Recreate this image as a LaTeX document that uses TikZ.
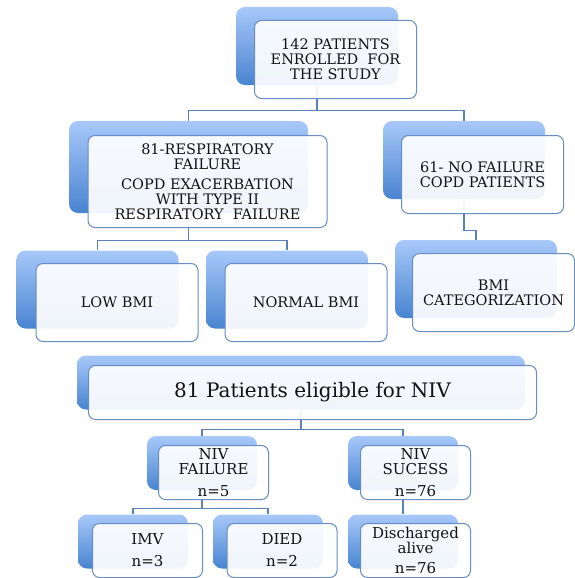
\documentclass[tikz,border=0pt]{standalone}
\usepackage{fontspec}
\setmainfont{DejaVu Serif}
\definecolor{backtop}{RGB}{168,200,250}
\definecolor{backbot}{RGB}{72,132,208}
\definecolor{frameblue}{RGB}{104,140,196}
\definecolor{linkblue}{RGB}{92,128,184}
\definecolor{inkgray}{RGB}{20,18,18}

\begin{document}
\begin{tikzpicture}[x=1pt,y=-1pt,
  back/.style={rounded corners=9pt, top color=backtop, bottom color=backbot, draw=none, inner sep=0pt},
  front/.style={draw=frameblue, line width=1pt, rounded corners=7pt, fill=white, fill opacity=0.92,
    text opacity=1, text=inkgray, align=center, inner sep=1pt,
    font=\fontsize{14.5}{15}\selectfont},
  tile/.style={minimum width=162pt, minimum height=78pt},
  bigtile/.style={minimum width=239pt, minimum height=92pt},
  bar/.style={minimum width=448pt, minimum height=54pt},
  small/.style={minimum width=110pt, minimum height=54pt, font=\fontsize{15}{15}\selectfont},
  link/.style={draw=linkblue, line width=1.3pt}]
  \useasboundingbox (0,0) rectangle (575,578);

  % back tiles
  \node[back, tile] (topbk) at (317,46) {};
  \node[back, bigtile] (resbk) at (188.5,167) {};
  \node[back, tile] (nofbk) at (464,160) {};
  \node[back, tile] (lowbk) at (97.5,289.5) {};
  \node[back, tile] (norbk) at (287,289.5) {};
  \node[back, tile] (bmibk) at (476,279) {};
  \node[back, bar] (nivbk) at (301,382.5) {};
  \node[back, small] (failbk) at (202,463) {};
  \node[back, small] (sucbk) at (403,463) {};
  \node[back, small] (imvbk) at (133,541.5) {};
  \node[back, small] (diedbk) at (268,541.5) {};
  \node[back, small] (disbk) at (403,541.5) {};

  % connectors
  \draw[link] (topbk.south) -- ++(0,25) -| (resbk.north);
  \draw[link] (topbk.south) -- ++(0,25) -| (nofbk.north);
  \draw[link] (resbk.south) -- ++(0,27) -| (lowbk.north);
  \draw[link] (resbk.south) -- ++(0,27) -| (norbk.north);
  \draw[link] (nofbk.south) -- ++(0,31) -| (bmibk.north);
  \draw[link] (nivbk.south) -- ++(0,20) -| (failbk.north);
  \draw[link] (nivbk.south) -- ++(0,20) -| (sucbk.north);
  \draw[link] (failbk.south) -- ++(0,18) -| (imvbk.north);
  \draw[link] (failbk.south) -- ++(0,18) -| (diedbk.north);
  \draw[link] (sucbk.south) -- (disbk.north);

  % front tiles
  \node[front, tile] (top) at (335.5,59.5) {142 PATIENTS\\ENROLLED\ \ FOR\\THE STUDY};
  \node[front, bigtile] (res) at (207.5,181.5) {81-RESPIRATORY\\FAILURE\\[5pt]COPD EXACERBATION\\WITH TYPE II\\RESPIRATORY\ \ FAILURE};
  \node[front, tile] (nof) at (482.5,174.5) {61- NO FAILURE\\COPD PATIENTS};
  \node[front, tile] (low) at (117,302.5) {LOW BMI};
  \node[front, tile] (nor) at (306,302.5) {NORMAL BMI};
  \node[front, tile] (bmi) at (493.5,292.5) {BMI\\CATEGORIZATION};
  \node[front, bar, font=\fontsize{20}{22}\selectfont] (niv) at (312.5,392.5) {81 Patients eligible for NIV\vphantom{y}};
  \node[front, small] (fail) at (213.5,472.5) {NIV\\FAILURE\\[7pt]n=5};
  \node[front, small] (suc) at (415.5,472.5) {NIV\\SUCESS\\[7pt]n=76};
  \node[front, small] (imv) at (147.5,550.5) {IMV\\[7pt]n=3};
  \node[front, small] (died) at (282,550.5) {DIED\\[7pt]n=2};
  \node[front, small] (dis) at (415.5,550.5) {Discharged\\alive\\[5pt]n=76};
\end{tikzpicture}
\end{document}
